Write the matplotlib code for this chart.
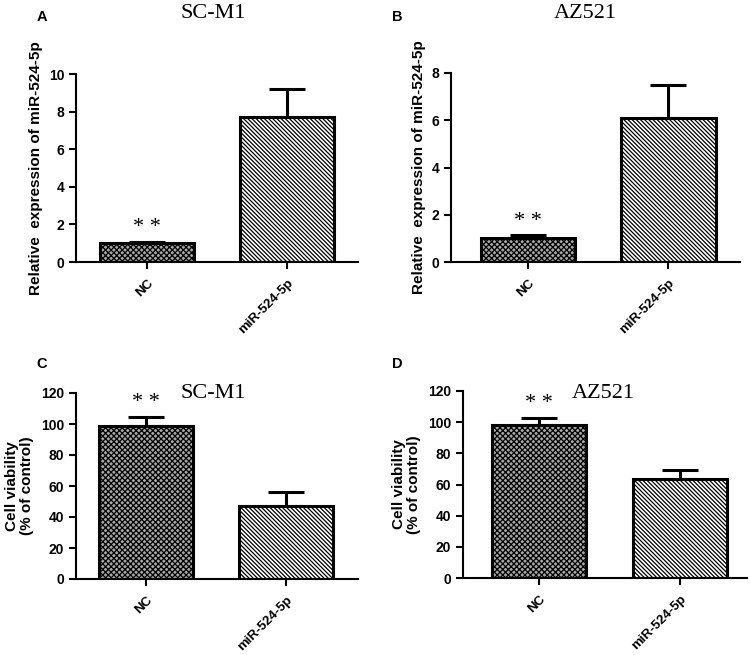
import numpy as np
import matplotlib
matplotlib.use("Agg")
import matplotlib.pyplot as plt

plt.rcParams['font.family'] = 'Liberation Sans'
plt.rcParams['hatch.linewidth'] = 0.9

groups = ['NC', 'miR-524-5p']

# panel A / B: relative expression of miR-524-5p
expr_scm1 = [1.0, 7.7]
expr_scm1_err = [0.05, 1.5]
expr_az521 = [1.0, 6.1]
expr_az521_err = [0.15, 1.4]

# panel C / D: cell viability
via_scm1 = [98.5, 47.0]
via_scm1_err = [6.0, 9.0]
via_az521 = [98.5, 63.5]
via_az521_err = [4.0, 6.0]

W, H = 750, 655
fig = plt.figure(figsize=(W / 100, H / 100), dpi=100)


def add_ax(left, right, bottom, top):
    return fig.add_axes([left / W, 1 - bottom / H, (right - left) / W, (bottom - top) / H])


def draw(ax, vals, errs, ymax, yticks, xlim, ylabel, star_y, ylabel_pad):
    x = np.arange(len(vals))
    bars = ax.bar(x, vals, width=0.67, edgecolor='black', linewidth=2.2, zorder=2)
    bars[0].set_facecolor('#a8a8a8')
    bars[0].set_hatch('xxxxxx')
    bars[1].set_facecolor('white')
    bars[1].set_hatch('\\\\\\\\\\\\\\\\')
    ax.errorbar(x, vals, yerr=[[0] * len(vals), errs], fmt='none', ecolor='black',
                elinewidth=2.2, capsize=13, capthick=2.2, zorder=1)
    ax.set_xlim(*xlim)
    ax.set_ylim(0, ymax)
    ax.set_yticks(yticks)
    ax.set_xticks(x)
    ax.set_xticklabels(groups, rotation=45, ha='right', rotation_mode='anchor',
                       fontsize=9.5, fontweight='bold')
    for lab in ax.get_yticklabels():
        lab.set_fontweight('bold')
        lab.set_fontsize(10)
    ax.spines['top'].set_visible(False)
    ax.spines['right'].set_visible(False)
    ax.spines['left'].set_linewidth(1.5)
    ax.spines['bottom'].set_linewidth(1.5)
    ax.tick_params(axis='both', width=1.5, length=5, direction='out')
    ax.tick_params(axis='x', pad=6)
    ax.set_ylabel(ylabel, fontsize=11, fontweight='bold', labelpad=ylabel_pad,
                  linespacing=1.05)
    ax.text(0, star_y, '* *', ha='center', va='center', fontsize=16,
            family='Liberation Serif')


axA = add_ax(76, 358, 262, 74)
draw(axA, expr_scm1, expr_scm1_err, 10, [0, 2, 4, 6, 8, 10], (-0.507, 1.507),
     'Relative  expression of miR-524-5p', 1.85, 4)

axB = add_ax(451, 740, 262, 73)
draw(axB, expr_az521, expr_az521_err, 8, [0, 2, 4, 6, 8], (-0.548, 1.509),
     'Relative  expression of miR-524-5p', 1.7, 4)

axC = add_ax(76, 358, 579, 393)
draw(axC, via_scm1, via_scm1_err, 120, [0, 20, 40, 60, 80, 100, 120], (-0.50, 1.51),
     'Cell viability\n(% of control)', 114, 5)

axD = add_ax(463, 747, 578, 391)
draw(axD, via_az521, via_az521_err, 120, [0, 20, 40, 60, 80, 100, 120], (-0.54, 1.475),
     'Cell viability\n(% of control)', 112, 5)

# cell line titles
title_kw = dict(ha='center', va='center', fontsize=16, family='Liberation Serif')
fig.text(213 / W, 1 - 14 / H, 'SC-M1', **title_kw)
fig.text(585 / W, 1 - 14 / H, 'AZ521', **title_kw)
fig.text(213 / W, 1 - 393 / H, 'SC-M1', **title_kw)
fig.text(603 / W, 1 - 393 / H, 'AZ521', **title_kw)

# panel letters
letter_kw = dict(ha='center', va='center', fontsize=10.5, fontweight='bold')
fig.text(42 / W, 1 - 17 / H, 'A', **letter_kw)
fig.text(397 / W, 1 - 17 / H, 'B', **letter_kw)
fig.text(42 / W, 1 - 364 / H, 'C', **letter_kw)
fig.text(397 / W, 1 - 364 / H, 'D', **letter_kw)

fig.savefig('out.png', dpi=100)
